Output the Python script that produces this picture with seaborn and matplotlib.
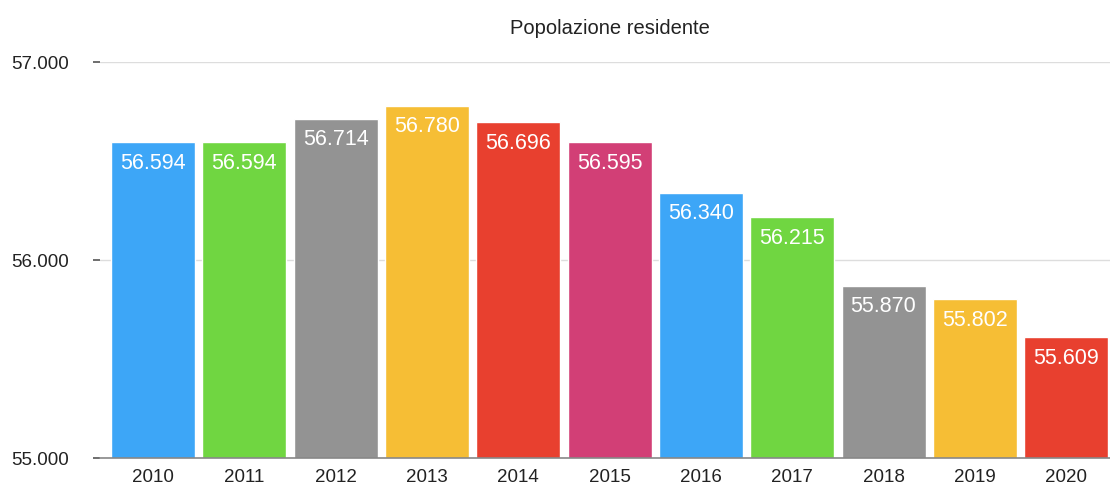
import pandas as pd
import matplotlib.pyplot as plt
import seaborn as sns

years = ['2010', '2011', '2012', '2013', '2014', '2015', '2016', '2017', '2018', '2019', '2020']
population = [56594, 56594, 56714, 56780, 56696, 56595, 56340, 56215, 55870, 55802, 55609]
bar_colors = ['#3DA6F7', '#70D641', '#939393', '#F6BE35', '#E8402F', '#D23F76',
              '#3DA6F7', '#70D641', '#939393', '#F6BE35', '#E8402F']
y_ticks = [55000, 56000, 57000]


def fmt(v):
    # separatore delle migliaia all'italiana
    return f'{v:,}'.replace(',', '.')


df = pd.DataFrame({'anno': years, 'popolazione': population})

sns.set_style('white')
plt.rcParams['font.family'] = ['Liberation Sans', 'DejaVu Sans']

fig = plt.figure(figsize=(11.1, 4.86), dpi=100)
ax = fig.add_axes([100 / 1110, 28 / 486, 1010 / 1110, 396 / 486])

sns.barplot(data=df, x='anno', y='popolazione', hue='anno', palette=bar_colors,
            legend=False, width=0.92, saturation=1, ax=ax, zorder=2)

ax.set_ylim(55000, 57000)
ax.set_xlim(-0.58, 10.48)
ax.set_yticks(y_ticks)
ax.set_yticklabels([fmt(t) for t in y_ticks])
ax.yaxis.grid(True, color='#dddddd', linewidth=1, zorder=0)
ax.set_axisbelow(True)

for s in ['top', 'right', 'left']:
    ax.spines[s].set_visible(False)
ax.spines['bottom'].set_color('#888888')
ax.spines['bottom'].set_linewidth(1.2)

ax.tick_params(axis='y', left=True, length=5, width=1.2, color='#555555', pad=17,
               labelsize=13.5, labelcolor='#222222')
ax.tick_params(axis='x', bottom=False, length=0, pad=8, labelsize=13.5, labelcolor='#222222')
ax.set_xlabel('')
ax.set_ylabel('')

for i, v in enumerate(population):
    ax.annotate(fmt(v), (i, v), xytext=(0, -15), textcoords='offset points',
                ha='center', va='center', color='white', fontsize=15.5)

fig.text(610 / 1110, 1 - 28 / 486, 'Popolazione residente', ha='center', va='center',
         fontsize=14.5, color='#222222')

fig.savefig('out.png', dpi=100)
